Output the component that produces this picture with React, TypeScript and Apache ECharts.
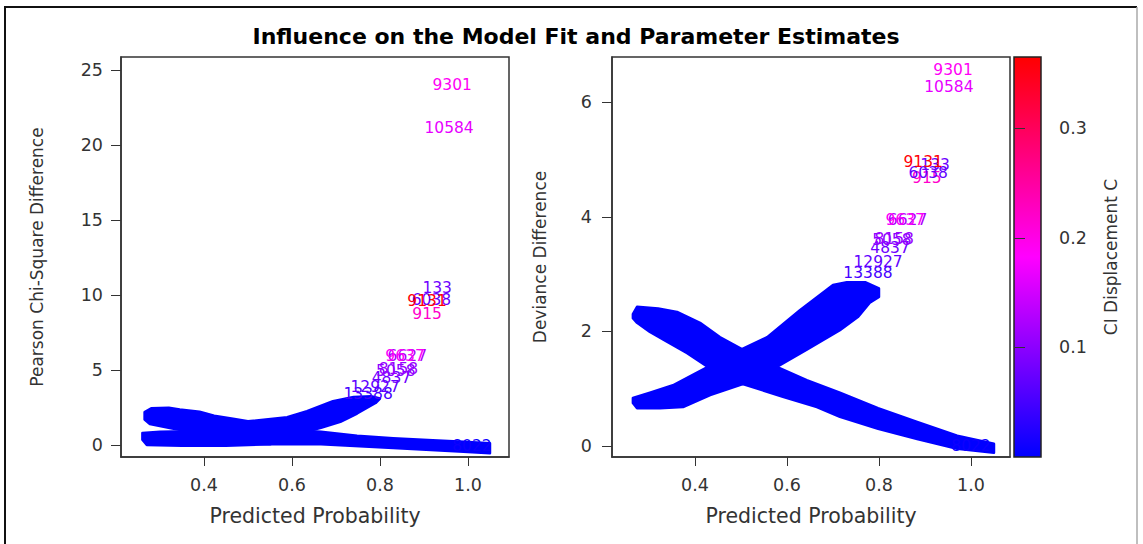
import { useEffect, useRef } from "react";
import * as echarts from "echarts";

const FONT = '"DejaVu Sans", sans-serif';

const probTicks = [0.4, 0.6, 0.8, 1.0];
const pearsonTicks = [0, 5, 10, 15, 20, 25];
const devianceTicks = [0, 2, 4, 6];
const displacementTicks = [0.1, 0.2, 0.3];

// outlines of the dense clouds of observation labels, [probability, difference]
// top edge left to right, then bottom edge back
const pearsonFalling = [
  [0.265, 2.2], [0.28, 2.45], [0.32, 2.48], [0.345, 2.36], [0.39, 2.22], [0.423, 1.95],
  [0.466, 1.75], [0.5, 1.58], [0.627, 0.95], [0.666, 0.88], [0.748, 0.62], [0.83, 0.45],
  [0.92, 0.32], [0.99, 0.22], [1.05, 0.12],
  [1.05, -0.55], [0.99, -0.45], [0.83, -0.2], [0.666, 0.05], [0.55, 0.05], [0.5, 0.1],
  [0.375, 0.85], [0.325, 1.12], [0.277, 1.4], [0.265, 1.7],
];
const pearsonRising = [
  [0.26, 0.8], [0.3, 0.88], [0.361, 0.92], [0.375, 0.95], [0.5, 1.58], [0.589, 1.85],
  [0.634, 2.25], [0.693, 2.92], [0.74, 3.2], [0.78, 3.25], [0.8, 3.1],
  [0.79, 2.8], [0.748, 2.1], [0.71, 1.55], [0.666, 1.15], [0.627, 0.85], [0.55, 0.05],
  [0.45, -0.05], [0.35, -0.05], [0.27, 0.0], [0.26, 0.35],
];
const devianceFalling = [
  [0.265, 2.3], [0.274, 2.43], [0.32, 2.4], [0.361, 2.34], [0.411, 2.15], [0.454, 1.9],
  [0.502, 1.69], [0.578, 1.38], [0.643, 1.15], [0.715, 0.93], [0.798, 0.66], [0.883, 0.42],
  [0.97, 0.18], [1.05, 0.04],
  [1.05, -0.12], [0.97, -0.05], [0.883, 0.12], [0.798, 0.3], [0.715, 0.51], [0.665, 0.68],
  [0.591, 0.86], [0.504, 1.08], [0.428, 1.38], [0.383, 1.62], [0.339, 1.82], [0.302, 1.99],
  [0.274, 2.15], [0.265, 2.23],
];
const devianceRising = [
  [0.265, 0.75], [0.274, 0.66], [0.324, 0.66], [0.374, 0.68], [0.433, 0.89], [0.504, 1.08],
  [0.578, 1.38], [0.643, 1.68], [0.715, 2.02], [0.754, 2.25], [0.78, 2.5], [0.8, 2.6],
  [0.8, 2.75], [0.77, 2.86], [0.73, 2.86], [0.7, 2.81], [0.628, 2.37], [0.557, 1.9],
  [0.502, 1.69], [0.428, 1.38], [0.352, 1.06], [0.302, 0.93], [0.265, 0.84],
];

// observations that stand out of the clouds
const obsIds = ["8022", "13388", "12927", "4837", "5058", "8158", "6627", "9637", "915", "6038", "133", "9131", "10584", "9301"];
const ciDisplacement = [0.01, 0.05, 0.07, 0.08, 0.1, 0.11, 0.12, 0.19, 0.22, 0.07, 0.08, 0.36, 0.165, 0.19];
const pearsonProb = [1.009, 0.773, 0.789, 0.826, 0.836, 0.842, 0.862, 0.857, 0.907, 0.917, 0.93, 0.907, 0.957, 0.964];
const pearsonDiff = [-0.07, 3.4, 3.87, 4.47, 4.95, 5.05, 5.95, 5.93, 8.73, 9.7, 10.47, 9.6, 21.13, 24.0];
const devianceProb = [1.0, 0.776, 0.798, 0.824, 0.828, 0.833, 0.862, 0.857, 0.904, 0.907, 0.922, 0.896, 0.952, 0.961];
const devianceDiff = [0.0, 3.02, 3.21, 3.46, 3.6, 3.62, 3.94, 3.94, 4.68, 4.76, 4.9, 4.96, 6.27, 6.56];

const AXIS_COLOR = "#333";

function probAxis(gridIndex: number, min: number, max: number) {
  return {
    type: "value" as const,
    gridIndex,
    min,
    max,
    name: "Predicted Probability",
    nameLocation: "middle" as const,
    nameGap: 48,
    nameTextStyle: { fontFamily: FONT, fontSize: 20.5, color: AXIS_COLOR },
    axisLine: { show: true, onZero: false, lineStyle: { color: AXIS_COLOR, width: 1.5 } },
    axisTick: { show: true, length: 9, customValues: probTicks, lineStyle: { color: AXIS_COLOR } },
    axisLabel: {
      customValues: probTicks,
      formatter: (v: number) => v.toFixed(1),
      fontFamily: FONT,
      fontSize: 17.5,
      color: AXIS_COLOR,
      margin: 19,
    },
    splitLine: { show: false },
  };
}

function diffAxis(gridIndex: number, min: number, max: number, ticks: number[], name: string, nameGap: number, margin: number) {
  return {
    type: "value" as const,
    gridIndex,
    min,
    max,
    name,
    nameLocation: "middle" as const,
    nameGap,
    nameTextStyle: { fontFamily: FONT, fontSize: 17, color: AXIS_COLOR },
    axisLine: { show: true, onZero: false, lineStyle: { color: AXIS_COLOR, width: 1.5 } },
    axisTick: { show: true, length: 10, customValues: ticks, lineStyle: { color: AXIS_COLOR } },
    axisLabel: { customValues: ticks, fontFamily: FONT, fontSize: 17.5, color: AXIS_COLOR, margin },
    splitLine: { show: false },
  };
}

function bandSeries(index: number, bands: number[][][]) {
  return {
    type: "custom" as const,
    xAxisIndex: index,
    yAxisIndex: index,
    silent: true,
    data: bands.map((b) => b[0]),
    renderItem: (params: any, api: any) => ({
      type: "polygon",
      shape: { points: bands[params.dataIndex].map((pt) => api.coord(pt)) },
      style: { fill: "#0000ff", stroke: "#0000ff", lineWidth: 2.5, lineJoin: "round" },
    }),
  };
}

function labelSeries(index: number, prob: number[], diff: number[]) {
  return {
    type: "custom" as const,
    xAxisIndex: index,
    yAxisIndex: index,
    silent: true,
    data: prob.map((p, i) => [p, diff[i], ciDisplacement[i]]),
    renderItem: (params: any, api: any) => {
      const pt = api.coord([api.value(0), api.value(1)]);
      return {
        type: "text",
        x: pt[0],
        y: pt[1],
        style: {
          text: obsIds[params.dataIndex],
          fill: api.visual("color"),
          font: `15.5px ${FONT}`,
          align: "center",
          verticalAlign: "middle",
          textAlign: "center",
          textVerticalAlign: "middle",
        },
      };
    },
  };
}

function buildOption(): any {
  return {
    animation: false,
    backgroundColor: "#fff",
    title: {
      text: "Influence on the Model Fit and Parameter Estimates",
      left: 576,
      top: 25,
      textAlign: "center",
      padding: 0,
      textStyle: { fontFamily: FONT, fontSize: 22, fontWeight: "bold", color: "#000" },
    },
    grid: [
      { left: 121, top: 57, width: 388, height: 400, show: true, borderColor: AXIS_COLOR, borderWidth: 1.5 },
      { left: 612, top: 57, width: 398, height: 400, show: true, borderColor: AXIS_COLOR, borderWidth: 1.5 },
      { left: 1014, top: 57, width: 27, height: 400, show: false },
    ],
    xAxis: [
      probAxis(0, 0.2114, 1.0932),
      probAxis(1, 0.2196, 1.0848),
      { type: "value", gridIndex: 2, min: 0, max: 1, show: false },
    ],
    yAxis: [
      diffAxis(0, -0.8, 25.87, pearsonTicks, "Pearson Chi-Square Difference", 76, 18),
      diffAxis(1, -0.192, 6.789, devianceTicks, "Deviance Difference", 64, 20),
      {
        type: "value",
        gridIndex: 2,
        position: "right",
        min: 0,
        max: 0.365,
        name: "CI Displacement C",
        nameLocation: "middle",
        nameGap: 61,
        nameTextStyle: { fontFamily: FONT, fontSize: 17, color: AXIS_COLOR },
        axisLine: { show: false },
        axisTick: { show: true, length: 11, customValues: displacementTicks, lineStyle: { color: AXIS_COLOR } },
        axisLabel: {
          customValues: displacementTicks,
          formatter: (v: number) => v.toFixed(1),
          fontFamily: FONT,
          fontSize: 17.5,
          color: AXIS_COLOR,
          margin: 18,
        },
        splitLine: { show: false },
      },
    ],
    visualMap: {
      type: "continuous",
      show: false,
      min: 0,
      max: 0.365,
      dimension: 2,
      seriesIndex: [2, 3],
      inRange: { color: ["#0000ff", "#ff00ff", "#ff0000"] },
    },
    graphic: [
      {
        type: "polyline",
        silent: true,
        shape: { points: [[5, 560], [5, 7], [1137, 7]] },
        style: { stroke: "#111", lineWidth: 2, fill: "none" },
      },
      {
        type: "line",
        silent: true,
        shape: { x1: 1137, y1: 7, x2: 1137, y2: 560 },
        style: { stroke: "#aaa", lineWidth: 1.5 },
      },
      {
        type: "rect",
        silent: true,
        shape: { x: 1014, y: 57, width: 27, height: 400 },
        style: {
          fill: new echarts.graphic.LinearGradient(0, 0, 0, 1, [
            { offset: 0, color: "#ff0000" },
            { offset: 0.5, color: "#ff00ff" },
            { offset: 1, color: "#0000ff" },
          ]),
          stroke: "#222",
          lineWidth: 1.5,
        },
      },
    ],
    series: [
      bandSeries(0, [pearsonFalling, pearsonRising]),
      bandSeries(1, [devianceFalling, devianceRising]),
      labelSeries(0, pearsonProb, pearsonDiff),
      labelSeries(1, devianceProb, devianceDiff),
    ],
  };
}

export default function App() {
  const chartRef = useRef<HTMLDivElement | null>(null);

  useEffect(() => {
    if (!chartRef.current) return;
    const instance = echarts.init(chartRef.current, undefined, { renderer: "svg" });
    instance.setOption(buildOption());
    return () => {
      instance.dispose();
    };
  }, []);

  return (
    <div
      ref={chartRef}
      style={{ position: "absolute", left: 0, top: 0, width: 1143, height: 544, background: "#fff" }}
    />
  );
}
